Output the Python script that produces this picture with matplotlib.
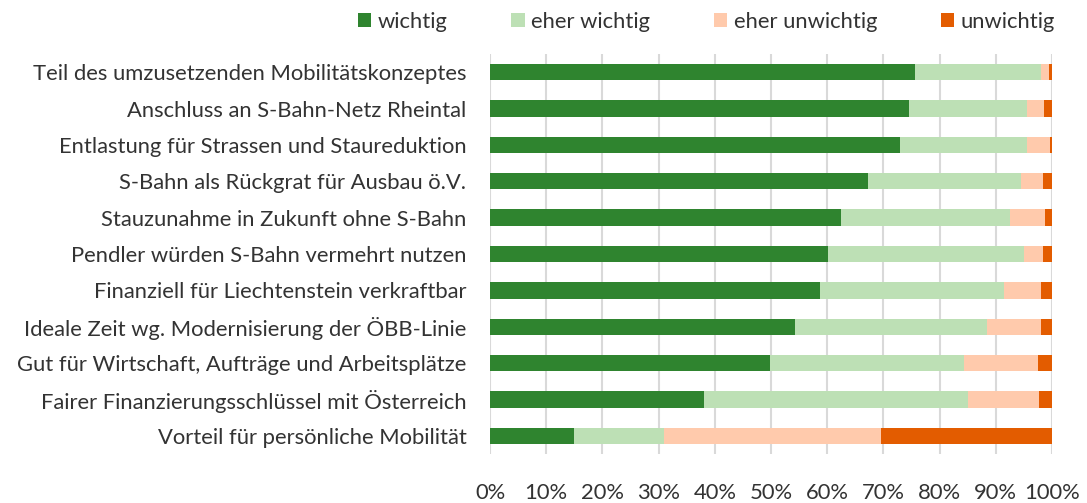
import numpy as np
import matplotlib.pyplot as plt

categories = [
    "Teil des umzusetzenden Mobilitätskonzeptes",
    "Anschluss an S-Bahn-Netz Rheintal",
    "Entlastung für Strassen und Staureduktion",
    "S-Bahn als Rückgrat für Ausbau ö.V.",
    "Stauzunahme in Zukunft ohne S-Bahn",
    "Pendler würden S-Bahn vermehrt nutzen",
    "Finanziell für Liechtenstein verkraftbar",
    "Ideale Zeit wg. Modernisierung der ÖBB-Linie",
    "Gut für Wirtschaft, Aufträge und Arbeitsplätze",
    "Fairer Finanzierungsschlüssel mit Österreich",
    "Vorteil für persönliche Mobilität",
]

wichtig = [75.6, 74.5, 73.0, 67.3, 62.4, 60.2, 58.7, 54.2, 49.8, 38.1, 14.9]
eher_wichtig = [22.4, 21.1, 22.5, 27.1, 30.1, 34.9, 32.7, 34.2, 34.5, 46.9, 16.0]
eher_unwichtig = [1.4, 3.0, 4.1, 4.0, 6.3, 3.3, 6.6, 9.6, 13.2, 12.6, 38.7]
unwichtig = [0.6, 1.4, 0.4, 1.6, 1.2, 1.6, 2.0, 2.0, 2.5, 2.4, 30.4]

series = ["wichtig", "eher wichtig", "eher unwichtig", "unwichtig"]
colors = ["#2f842f", "#bde0b5", "#ffcaac", "#e35c00"]

plt.rcParams['font.family'] = ['Lato', 'DejaVu Sans']
text_color = "#333333"
fs = 15.8

fig = plt.figure(figsize=(10.87, 5.03), dpi=100)
ax = fig.add_axes([490 / 1087, 1 - 454 / 503, 562 / 1087, 400 / 503])

# stacked horizontal bars
y = np.arange(len(categories))
left = np.zeros(len(categories))
for name, vals, col in zip(series, [wichtig, eher_wichtig, eher_unwichtig, unwichtig], colors):
    vals = np.array(vals)
    ax.barh(y, vals, left=left, height=0.45, color=col, label=name, zorder=3)
    left += vals

ax.set_xlim(0, 100)
ax.set_ylim(len(categories) - 0.5, -0.5)
ax.set_yticks(y)
ax.set_yticklabels(categories, fontsize=fs, color=text_color)
ax.set_xticks(np.arange(0, 101, 10))
ax.set_xticklabels([f"{v}%" for v in range(0, 101, 10)], fontsize=fs, color=text_color)
ax.tick_params(axis='y', length=0, pad=17)
ax.tick_params(axis='x', length=0, pad=21)
ax.grid(axis='x', color="#d9d9d9", linewidth=1.5, zorder=0)
for s in ax.spines.values():
    s.set_visible(False)

leg = fig.legend(loc='upper center', bbox_to_anchor=(0.650, 1.016), ncol=4, frameon=False,
                 fontsize=fs, handlelength=0.6, handleheight=0.6, handletextpad=0.3,
                 columnspacing=2.9)
for t in leg.get_texts():
    t.set_color(text_color)

fig.savefig("out.png", dpi=100)
